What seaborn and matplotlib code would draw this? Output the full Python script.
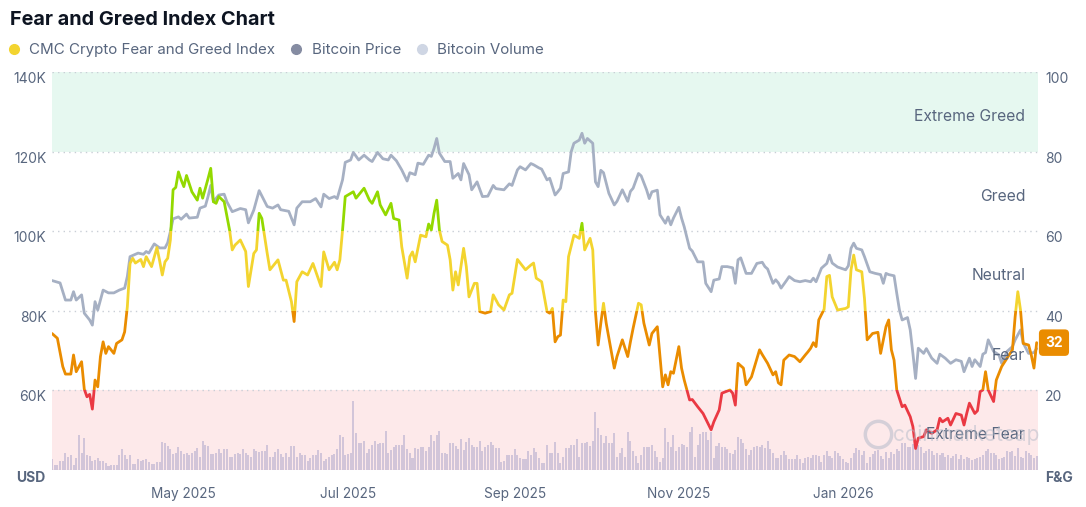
import pandas as pd
import seaborn as sns
import matplotlib.pyplot as plt
import matplotlib.transforms as mtrans
from matplotlib.patches import Rectangle
from matplotlib.lines import Line2D

# CMC Fear & Greed index
fg_dates = [
    "2025-03-13", "2025-03-15", "2025-03-17", "2025-03-18", "2025-03-20", "2025-03-21", "2025-03-22", "2025-03-24",
    "2025-03-25", "2025-03-26", "2025-03-27", "2025-03-28", "2025-03-29", "2025-03-30", "2025-03-31", "2025-04-01",
    "2025-04-02", "2025-04-03", "2025-04-05", "2025-04-06", "2025-04-08", "2025-04-09", "2025-04-10", "2025-04-11",
    "2025-04-12", "2025-04-13", "2025-04-15", "2025-04-16", "2025-04-17", "2025-04-19", "2025-04-21", "2025-04-22",
    "2025-04-23", "2025-04-24", "2025-04-25", "2025-04-26", "2025-04-27", "2025-04-28", "2025-04-29", "2025-04-30",
    "2025-05-01", "2025-05-02", "2025-05-04", "2025-05-06", "2025-05-07", "2025-05-08", "2025-05-10", "2025-05-11",
    "2025-05-12", "2025-05-13", "2025-05-14", "2025-05-16", "2025-05-18", "2025-05-19", "2025-05-20", "2025-05-22",
    "2025-05-24", "2025-05-25", "2025-05-27", "2025-05-28", "2025-05-29", "2025-05-30", "2025-06-01", "2025-06-02",
    "2025-06-05", "2025-06-07", "2025-06-08", "2025-06-10", "2025-06-11", "2025-06-12", "2025-06-14", "2025-06-16",
    "2025-06-18", "2025-06-21", "2025-06-22", "2025-06-24", "2025-06-26", "2025-06-27", "2025-06-28", "2025-06-29",
    "2025-06-30", "2025-07-01", "2025-07-03", "2025-07-04", "2025-07-07", "2025-07-09", "2025-07-10", "2025-07-12",
    "2025-07-13", "2025-07-15", "2025-07-17", "2025-07-18", "2025-07-20", "2025-07-21", "2025-07-23", "2025-07-24",
    "2025-07-25", "2025-07-26", "2025-07-28", "2025-07-30", "2025-07-31", "2025-08-01", "2025-08-02", "2025-08-03",
    "2025-08-04", "2025-08-05", "2025-08-07", "2025-08-08", "2025-08-09", "2025-08-10", "2025-08-11", "2025-08-13",
    "2025-08-14", "2025-08-15", "2025-08-17", "2025-08-18", "2025-08-19", "2025-08-21", "2025-08-23", "2025-08-24",
    "2025-08-26", "2025-08-28", "2025-08-30", "2025-08-31", "2025-09-02", "2025-09-05", "2025-09-07", "2025-09-08",
    "2025-09-09", "2025-09-11", "2025-09-13", "2025-09-14", "2025-09-15", "2025-09-16", "2025-09-17", "2025-09-18",
    "2025-09-19", "2025-09-20", "2025-09-21", "2025-09-23", "2025-09-25", "2025-09-26", "2025-09-27", "2025-09-29",
    "2025-09-30", "2025-10-01", "2025-10-02", "2025-10-03", "2025-10-04", "2025-10-05", "2025-10-08", "2025-10-09",
    "2025-10-11", "2025-10-13", "2025-10-14", "2025-10-15", "2025-10-17", "2025-10-18", "2025-10-19", "2025-10-21",
    "2025-10-22", "2025-10-24", "2025-10-26", "2025-10-27", "2025-10-28", "2025-10-29", "2025-10-30", "2025-11-01",
    "2025-11-02", "2025-11-03", "2025-11-04", "2025-11-05", "2025-11-06", "2025-11-08", "2025-11-10", "2025-11-13",
    "2025-11-14", "2025-11-16", "2025-11-17", "2025-11-20", "2025-11-21", "2025-11-22", "2025-11-23", "2025-11-25",
    "2025-11-26", "2025-11-28", "2025-12-01", "2025-12-02", "2025-12-04", "2025-12-06", "2025-12-07", "2025-12-08",
    "2025-12-09", "2025-12-10", "2025-12-12", "2025-12-14", "2025-12-16", "2025-12-18", "2025-12-19", "2025-12-20",
    "2025-12-21", "2025-12-22", "2025-12-23", "2025-12-25", "2025-12-26", "2025-12-27", "2025-12-28", "2025-12-30",
    "2026-01-02", "2026-01-03", "2026-01-04", "2026-01-05", "2026-01-06", "2026-01-08", "2026-01-09", "2026-01-10",
    "2026-01-12", "2026-01-14", "2026-01-15", "2026-01-17", "2026-01-18", "2026-01-19", "2026-01-20", "2026-01-21",
    "2026-01-23", "2026-01-24", "2026-01-26", "2026-01-27", "2026-01-28", "2026-01-29", "2026-01-31", "2026-02-01",
    "2026-02-03", "2026-02-05", "2026-02-06", "2026-02-07", "2026-02-09", "2026-02-10", "2026-02-12", "2026-02-14",
    "2026-02-15", "2026-02-16", "2026-02-17", "2026-02-19", "2026-02-20", "2026-02-21", "2026-02-22", "2026-02-23",
    "2026-02-24", "2026-02-26", "2026-02-27", "2026-03-01", "2026-03-03", "2026-03-05", "2026-03-06", "2026-03-07",
    "2026-03-08", "2026-03-09", "2026-03-11", "2026-03-12", "2026-03-13", "2026-03-14",
]
fg_values = [
    34.3, 33.1, 26.0, 24.1, 24.1, 28.9, 24.7, 27.2, 20.3, 18.4, 19.0, 15.3, 22.6, 20.9, 28.5, 32.2,
    29.3, 31.0, 29.3, 31.8, 32.7, 34.7, 41.0, 51.9, 53.2, 52.0, 52.9, 51.1, 53.6, 51.1, 55.9, 52.6,
    49.0, 52.3, 53.2, 57.8, 70.4, 71.0, 74.9, 72.9, 71.2, 74.0, 69.9, 67.8, 70.8, 68.3, 73.2, 75.8,
    67.4, 67.0, 68.7, 67.4, 60.3, 55.3, 56.5, 57.8, 54.9, 46.1, 54.4, 55.3, 64.5, 63.2, 54.4, 50.3,
    52.8, 47.7, 47.7, 42.3, 37.3, 47.3, 49.8, 49.0, 51.9, 46.1, 54.8, 50.3, 52.2, 50.3, 52.8, 60.3,
    68.7, 69.1, 69.9, 68.3, 70.8, 67.8, 67.0, 69.9, 66.6, 64.1, 67.0, 63.2, 62.8, 56.1, 48.2, 53.6,
    54.8, 52.3, 59.0, 58.6, 61.8, 60.3, 64.5, 67.8, 60.3, 57.4, 56.5, 52.8, 45.2, 49.8, 46.5, 55.7,
    51.1, 43.5, 46.9, 46.9, 39.8, 39.4, 39.8, 44.0, 41.5, 40.2, 44.0, 44.4, 52.9, 50.3, 51.5, 52.0,
    48.2, 47.3, 39.8, 39.4, 40.6, 32.2, 33.5, 33.9, 42.7, 42.3, 53.6, 59.0, 58.2, 62.0, 55.3, 58.2,
    55.3, 39.8, 31.4, 36.9, 41.9, 36.9, 25.6, 28.5, 32.7, 28.5, 32.2, 35.6, 41.9, 41.5, 36.9, 31.4,
    34.3, 36.0, 20.9, 23.9, 21.4, 24.7, 24.3, 31.0, 25.6, 22.6, 20.1, 17.6, 17.7, 15.9, 14.2, 10.1,
    12.1, 15.1, 19.3, 20.1, 19.3, 16.3, 26.8, 25.6, 21.4, 23.4, 30.2, 29.0, 26.8, 23.9, 24.7, 21.9,
    21.4, 27.6, 28.9, 28.5, 27.2, 28.9, 29.7, 30.6, 32.0, 31.0, 37.7, 40.4, 48.6, 48.9, 43.5, 40.2,
    40.6, 41.0, 50.3, 54.0, 50.3, 49.8, 43.1, 32.7, 34.3, 34.6, 29.3, 36.0, 37.7, 30.2, 27.6, 20.1,
    15.9, 16.3, 13.4, 10.9, 5.4, 8.0, 8.4, 10.1, 9.2, 10.1, 13.0, 12.1, 13.0, 11.3, 14.2, 13.8,
    11.3, 14.2, 16.8, 14.2, 14.9, 19.7, 20.1, 24.7, 20.1, 17.2, 22.6, 26.0, 28.1, 30.2, 38.5, 44.8,
    40.2, 31.8, 31.4, 28.9, 25.6, 32.0,
]

# Bitcoin price, thousands of USD
price_dates = [
    "2025-03-13", "2025-03-16", "2025-03-18", "2025-03-20", "2025-03-21", "2025-03-22", "2025-03-24", "2025-03-25",
    "2025-03-27", "2025-03-28", "2025-03-29", "2025-03-30", "2025-04-01", "2025-04-03", "2025-04-05", "2025-04-07",
    "2025-04-09", "2025-04-10", "2025-04-11", "2025-04-14", "2025-04-16", "2025-04-17", "2025-04-18", "2025-04-20",
    "2025-04-22", "2025-04-24", "2025-04-25", "2025-04-26", "2025-04-27", "2025-04-29", "2025-04-30", "2025-05-02",
    "2025-05-03", "2025-05-06", "2025-05-07", "2025-05-09", "2025-05-10", "2025-05-11", "2025-05-12", "2025-05-14",
    "2025-05-16", "2025-05-17", "2025-05-19", "2025-05-22", "2025-05-24", "2025-05-25", "2025-05-27", "2025-05-29",
    "2025-06-01", "2025-06-03", "2025-06-05", "2025-06-06", "2025-06-09", "2025-06-11", "2025-06-12", "2025-06-14",
    "2025-06-17", "2025-06-19", "2025-06-21", "2025-06-22", "2025-06-24", "2025-06-26", "2025-06-27", "2025-06-29",
    "2025-06-30", "2025-07-02", "2025-07-03", "2025-07-05", "2025-07-07", "2025-07-09", "2025-07-10", "2025-07-12",
    "2025-07-14", "2025-07-16", "2025-07-17", "2025-07-19", "2025-07-21", "2025-07-23", "2025-07-24", "2025-07-26",
    "2025-07-27", "2025-07-29", "2025-07-31", "2025-08-01", "2025-08-02", "2025-08-03", "2025-08-04", "2025-08-06",
    "2025-08-08", "2025-08-09", "2025-08-11", "2025-08-12", "2025-08-13", "2025-08-15", "2025-08-16", "2025-08-18",
    "2025-08-20", "2025-08-22", "2025-08-24", "2025-08-25", "2025-08-28", "2025-08-30", "2025-08-31", "2025-09-02",
    "2025-09-03", "2025-09-05", "2025-09-07", "2025-09-08", "2025-09-10", "2025-09-11", "2025-09-13", "2025-09-14",
    "2025-09-16", "2025-09-17", "2025-09-18", "2025-09-19", "2025-09-21", "2025-09-22", "2025-09-23", "2025-09-25",
    "2025-09-26", "2025-09-27", "2025-09-28", "2025-09-30", "2025-10-01", "2025-10-02", "2025-10-03", "2025-10-04",
    "2025-10-06", "2025-10-08", "2025-10-09", "2025-10-11", "2025-10-13", "2025-10-14", "2025-10-15", "2025-10-17",
    "2025-10-18", "2025-10-20", "2025-10-21", "2025-10-22", "2025-10-24", "2025-10-25", "2025-10-27", "2025-10-28",
    "2025-10-29", "2025-10-30", "2025-11-01", "2025-11-02", "2025-11-03", "2025-11-05", "2025-11-06", "2025-11-08",
    "2025-11-10", "2025-11-11", "2025-11-13", "2025-11-14", "2025-11-16", "2025-11-17", "2025-11-19", "2025-11-21",
    "2025-11-22", "2025-11-23", "2025-11-24", "2025-11-26", "2025-11-28", "2025-11-30", "2025-12-02", "2025-12-03",
    "2025-12-04", "2025-12-06", "2025-12-07", "2025-12-08", "2025-12-09", "2025-12-11", "2025-12-12", "2025-12-14",
    "2025-12-16", "2025-12-18", "2025-12-20", "2025-12-21", "2025-12-22", "2025-12-24", "2025-12-26", "2025-12-27",
    "2025-12-28", "2025-12-30", "2026-01-02", "2026-01-03", "2026-01-04", "2026-01-05", "2026-01-06", "2026-01-08",
    "2026-01-09", "2026-01-11", "2026-01-13", "2026-01-15", "2026-01-16", "2026-01-17", "2026-01-18", "2026-01-20",
    "2026-01-21", "2026-01-22", "2026-01-23", "2026-01-25", "2026-01-26", "2026-01-27", "2026-01-28", "2026-01-29",
    "2026-01-31", "2026-02-01", "2026-02-03", "2026-02-05", "2026-02-06", "2026-02-08", "2026-02-10", "2026-02-12",
    "2026-02-14", "2026-02-15", "2026-02-17", "2026-02-18", "2026-02-19", "2026-02-21", "2026-02-22", "2026-02-23",
    "2026-02-24", "2026-02-26", "2026-02-28", "2026-03-01", "2026-03-03", "2026-03-05", "2026-03-06", "2026-03-08",
    "2026-03-09", "2026-03-11", "2026-03-13", "2026-03-14",
]
price_k = [
    87.6, 87.0, 82.7, 82.7, 84.8, 82.7, 84.0, 79.4, 77.7, 76.4, 82.3, 80.2, 85.2, 84.5, 84.5, 85.2,
    85.7, 88.6, 93.6, 94.5, 94.2, 94.9, 94.5, 96.8, 95.8, 95.8, 97.1, 99.9, 103.1, 103.6, 103.0, 104.3,
    103.3, 103.5, 105.8, 106.3, 108.7, 111.5, 107.4, 109.1, 109.3, 107.4, 104.9, 105.7, 105.4, 102.1, 105.3, 110.2,
    106.2, 105.8, 106.6, 105.4, 105.0, 101.6, 105.8, 107.4, 107.4, 108.2, 106.1, 109.3, 108.2, 108.7, 108.2, 112.9,
    117.3, 117.9, 119.8, 117.9, 119.1, 117.9, 117.5, 119.8, 118.2, 117.9, 119.1, 117.7, 115.4, 112.6, 114.7, 114.2,
    117.1, 116.8, 119.1, 118.8, 120.8, 123.3, 119.6, 117.5, 117.5, 113.3, 114.5, 112.9, 117.0, 114.2, 110.4, 112.4,
    108.7, 108.8, 111.5, 110.7, 110.4, 111.9, 111.5, 115.4, 116.2, 115.4, 117.0, 116.7, 115.9, 115.6, 112.9, 113.3,
    109.1, 109.9, 110.8, 114.5, 114.9, 120.0, 122.1, 122.9, 124.6, 122.1, 123.3, 122.1, 112.4, 111.2, 115.3, 114.7,
    109.5, 106.6, 107.5, 110.4, 107.5, 110.0, 110.8, 114.5, 113.9, 110.4, 108.2, 109.9, 110.3, 104.1, 102.0, 103.6,
    101.6, 103.3, 106.0, 103.3, 101.1, 95.7, 95.0, 92.3, 92.3, 86.9, 84.8, 87.7, 88.0, 91.1, 91.1, 90.8,
    86.9, 92.8, 93.3, 89.4, 89.4, 91.9, 92.2, 91.1, 90.5, 86.9, 87.8, 87.0, 85.7, 87.6, 88.6, 87.6,
    87.3, 87.6, 87.3, 88.2, 87.3, 90.7, 91.9, 94.0, 92.0, 91.0, 90.3, 91.3, 95.7, 97.0, 95.7, 95.3,
    93.6, 89.8, 89.4, 89.1, 86.9, 89.4, 89.1, 88.8, 84.4, 80.2, 77.7, 78.3, 75.2, 69.3, 63.0, 70.6,
    69.3, 70.5, 68.1, 66.8, 69.1, 68.1, 66.8, 67.7, 67.3, 64.7, 68.1, 66.0, 67.7, 66.0, 69.1, 69.5,
    72.7, 69.8, 68.9, 66.8, 69.8, 71.0, 72.7, 75.2, 71.9, 69.3, 69.5, 70.5,
]

# daily Bitcoin volume (relative units, billions of USD)
volume_start = "2025-03-11"
volume_b = [
    8, 8, 11, 5, 5, 9, 9, 17, 13, 15, 5, 12, 35, 17, 32, 15, 14, 9, 10, 12, 9, 9, 7, 4, 5, 5, 5, 15, 21, 15, 11,
    15, 6, 6, 11, 9, 10, 11, 8, 6, 6, 8, 8, 28, 27, 24, 21, 16, 17, 23, 19, 16, 17, 15, 17, 19, 22, 13, 29, 25,
    24, 16, 16, 17, 21, 17, 21, 21, 13, 13, 16, 17, 16, 21, 17, 15, 13, 21, 19, 18, 19, 19, 25, 13, 13, 18, 21,
    16, 13, 17, 13, 24, 24, 13, 17, 15, 15, 9, 12, 15, 15, 20, 17, 9, 11, 13, 15, 16, 21, 35, 33, 15, 16, 17, 69,
    37, 27, 27, 29, 17, 21, 25, 29, 26,
    27, 27, 39, 17, 20, 23, 25, 25, 25, 35, 21, 17, 12, 22, 21, 23, 23, 19, 23, 35, 29, 35, 39, 17, 17, 16, 27,
    27, 24, 21, 31, 20, 28, 32, 25, 23, 23, 29, 19, 23, 25, 28, 25, 22, 22, 8, 9, 15, 15, 15, 21, 15, 12, 11, 11,
    19, 15, 22, 18, 12, 7, 7, 25, 17, 17, 28, 17, 7, 13, 22, 22, 25, 25, 31, 13, 27, 27, 28, 24, 29, 58, 42, 35,
    27, 34, 27, 27, 37, 13, 17, 22, 13, 38, 29, 19, 14, 7, 15, 23, 23, 23, 25, 19, 13, 8, 12, 42, 28, 23, 35, 19,
    23, 26, 25, 23, 38, 43, 13, 25, 36, 38, 38, 30, 38,
    12, 24, 27, 23, 23, 21, 17, 16, 20, 33, 31, 27, 21, 15, 20, 23, 24, 23, 25, 22, 29, 21, 17, 12, 12, 15, 19,
    15, 11, 11, 11, 15, 11, 7, 12, 13, 12, 15, 15, 14, 8, 15, 19, 14, 12, 19, 17, 14, 11, 8, 7, 12, 17, 22, 20,
    15, 19, 7, 13, 16, 19, 20, 14, 11, 18, 12, 18, 16, 21, 19, 27, 27, 23, 23, 26, 26, 25, 23, 17, 19, 21, 19, 15,
    17, 15, 17, 13, 15, 12, 14, 16, 11, 15, 11, 13, 12, 10, 11, 12, 13, 15, 19, 21, 17, 17, 15, 11, 12, 13, 19,
    18, 19, 14, 22, 13, 12, 19, 17, 15, 12, 14, 12, 6, 15, 20,
]

zone_names = ["Extreme Fear", "Fear", "Neutral", "Greed", "Extreme Greed"]
zone_edges = [0, 20, 40, 60, 80, 100]
zone_colors = ["#ea3943", "#ea8c00", "#f3d42f", "#93d900", "#16c784"]
usd_ticks = [60, 80, 100, 120, 140]
fg_ticks = [20, 40, 60, 80, 100]
month_ticks = ["2025-05-01", "2025-07-01", "2025-09-01", "2025-11-01", "2026-01-01"]
month_labels = ["May 2025", "Jul 2025", "Sep 2025", "Nov 2025", "Jan 2026"]
latest_fg = 32

TXT = "#58667e"
GRID = "#c9ced6"

sns.set_theme(style="white")
plt.rcParams['font.family'] = ['Inter', 'DejaVu Sans']

fg = pd.DataFrame({"date": pd.to_datetime(fg_dates), "fg": fg_values})
btc = pd.DataFrame({"date": pd.to_datetime(price_dates), "price": price_k})
vol = pd.DataFrame({"date": pd.date_range(volume_start, periods=len(volume_b), freq="D"),
                    "volume": volume_b})

fig = plt.figure(figsize=(10.86, 5.07), dpi=100)
ax = fig.add_axes([52 / 1086, 37 / 507, 986 / 1086, 398 / 507])
ax_v = ax.twinx()
ax_f = ax.twinx()

# zone shading (price axis is 40K..140K, same pixels as 0..100)
ax.axhspan(120, 140, color="#e6f8f0", zorder=0, lw=0)
ax.axhspan(40, 60, color="#fde9ea", zorder=0, lw=0)
for t in [40] + usd_ticks:
    ax.axhline(t, color=GRID, lw=1, ls=(0, (1, 3)), zorder=1)

# volume bars
ax_v.bar(vol["date"], vol["volume"], width=0.75, color="#cbbfd6", alpha=0.85, lw=0)
ax_v.set_ylim(0, 398)
ax_v.set_axis_off()

# bitcoin price
sns.lineplot(data=btc, x="date", y="price", ax=ax, color="#a6b0c3", lw=2, zorder=3)

# fear & greed, coloured by zone
band = mtrans.blended_transform_factory(ax_f.transAxes, ax_f.transData)
for lo, hi, c in zip(zone_edges[:-1], zone_edges[1:], zone_colors):
    sns.lineplot(data=fg, x="date", y="fg", ax=ax_f, color=c, lw=2)
    line = ax_f.lines[-1]
    lo_clip = lo - 10 if lo == 0 else lo
    line.set_clip_path(Rectangle((0, lo_clip), 1, hi - lo_clip, transform=band))

xmin, xmax = pd.Timestamp("2025-03-13"), pd.Timestamp("2026-03-14 12:00")
for a in (ax, ax_v, ax_f):
    a.set_xlim(xmin, xmax)
    a.set_xlabel("")
    a.set_ylabel("")
    for s in a.spines.values():
        s.set_visible(False)

ax.set_ylim(40, 140)
ax_f.set_ylim(0, 100)
ax.set_yticks(usd_ticks, labels=[f"{t}K" for t in usd_ticks])
ax_f.set_yticks(fg_ticks, labels=[str(t) for t in fg_ticks])
ax.set_xticks(pd.to_datetime(month_ticks), labels=month_labels)
ax.tick_params(axis="y", length=0, pad=4, labelsize=10, labelcolor=TXT)
ax_f.tick_params(axis="y", length=0, pad=5, labelsize=10, labelcolor=TXT)
ax.tick_params(axis="x", length=0, pad=12, labelsize=9.8, labelcolor=TXT)
for lbl in ax.get_yticklabels() + ax_f.get_yticklabels():
    lbl.set_verticalalignment("top")

# watermark
fig.text(893 / 1086, 1 - 435 / 507, "coinmarketcap", fontsize=15, color="#b3bac8", alpha=0.5,
         ha="left", va="center")
fig.add_artist(Line2D([878 / 1086], [1 - 434 / 507], marker="o", markersize=19, mfc="none", mec="#a6b0c3",
                      mew=2.5, alpha=0.45, transform=fig.transFigure))

# zone names on the right
mids = [(a + b) / 2 for a, b in zip(zone_edges[:-1], zone_edges[1:])]
for name, m in zip(zone_names, mids):
    ax_f.text(0.987, m - 1.2, name, transform=band, ha="right", va="center", fontsize=11.3, color=TXT, zorder=6)

# latest value badge
ax_f.text(1.0162, latest_fg, str(latest_fg), transform=band, ha="center", va="center", fontsize=10,
          fontweight="bold", color="white",
          bbox=dict(boxstyle="round,pad=0.45,rounding_size=0.3", fc="#ea8c00", ec="none"), clip_on=False)

# axis unit labels
fig.text(31 / 1086, 1 - 478 / 507, "USD", ha="center", va="center", fontsize=10, fontweight="bold", color=TXT)
fig.text(1059 / 1086, 1 - 478 / 507, "F&G", ha="center", va="center", fontsize=10, fontweight="bold", color=TXT)

# title and legend
fig.text(10 / 1086, 1 - 20 / 507, "Fear and Greed Index Chart", ha="left", va="center", fontsize=14.3,
         fontweight="bold", color="#0d1421")
handles = [Line2D([], [], ls="", marker="o", markersize=7, color=c) for c in ["#f3d42f", "#858ca2", "#cfd6e4"]]
fig.legend(handles, ["CMC Crypto Fear and Greed Index", "Bitcoin Price", "Bitcoin Volume"],
           loc="center left", bbox_to_anchor=(8 / 1086, 1 - 50 / 507), ncol=3, frameon=False, fontsize=10.9,
           labelcolor=TXT, handlelength=0.8, handletextpad=0.6, columnspacing=1.0, borderpad=0,
           borderaxespad=0)

fig.savefig("out.png", dpi=100)
